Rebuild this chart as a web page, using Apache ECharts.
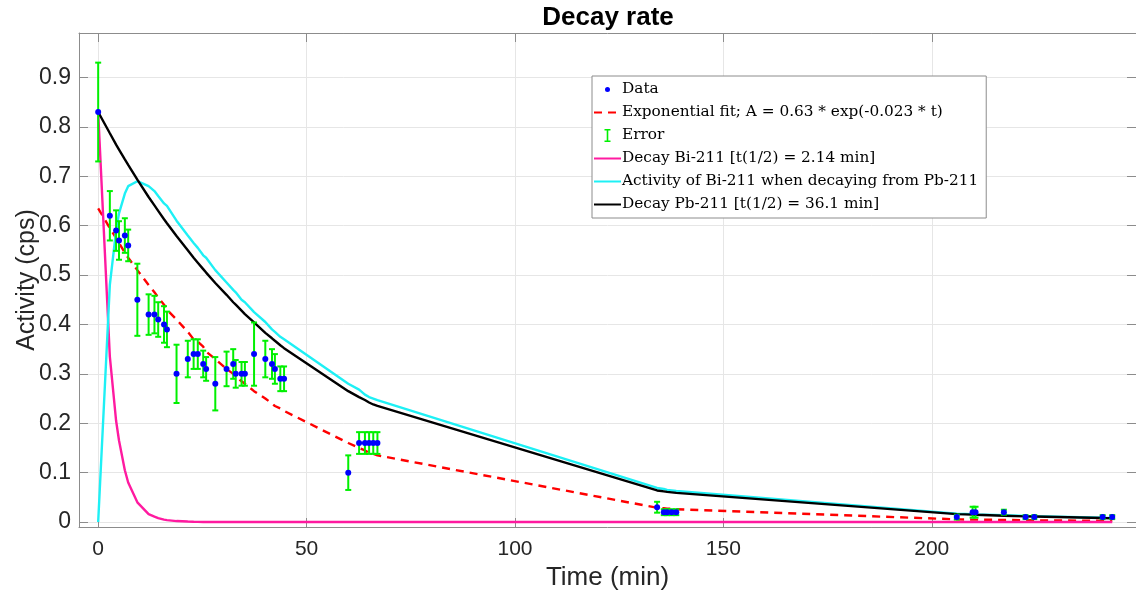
<!DOCTYPE html>
<html>
<head>
<meta charset="utf-8">
<title>Decay rate</title>
<script src="https://cdn.jsdelivr.net/npm/echarts@6/dist/echarts.min.js"></script>
<style>
    html, body { margin: 0; padding: 0; background: #fff; }
    #main { width: 1136px; height: 604px; }
</style>
</head>
<body>
<div id="main"></div>
<script>
var timeMin = [0, 2.8, 4.3, 5.0, 6.4, 7.2, 9.4, 12.1, 13.5, 14.4, 15.8, 16.5, 18.8, 21.5, 22.9, 23.9,
    25.2, 25.9, 28.1, 30.8, 32.4, 33.0, 34.4, 35.2, 37.4, 40.1, 41.7, 42.4, 43.7, 44.6,
    60.0, 62.6, 64.0, 65.0, 66.0, 67.0, 134.1, 135.7, 136.5, 137.6, 138.7,
    206.0, 209.8, 210.5, 217.3, 222.5, 224.6, 241.0, 243.3];

// measured activity (cps)
var activity = [0.83, 0.62, 0.59, 0.57, 0.58, 0.56, 0.45, 0.42, 0.42, 0.41, 0.40, 0.39, 0.30, 0.33, 0.34, 0.34,
    0.32, 0.31, 0.28, 0.31, 0.32, 0.30, 0.30, 0.30, 0.34, 0.33, 0.32, 0.31, 0.29, 0.29,
    0.10, 0.16, 0.16, 0.16, 0.16, 0.16, 0.03, 0.02, 0.02, 0.02, 0.02,
    0.01, 0.02, 0.02, 0.02, 0.01, 0.01, 0.01, 0.01];

// half length of the error bars
var errorHalf = [0.10, 0.05, 0.041, 0.039, 0.035, 0.032, 0.073, 0.041, 0.038, 0.035, 0.037, 0.036, 0.059, 0.037, 0.03, 0.03,
    0.027, 0.024, 0.054, 0.035, 0.03, 0.028, 0.024, 0.024, 0.064, 0.037, 0.03, 0.03, 0.025, 0.025,
    0.035, 0.022, 0.022, 0.022, 0.022, 0.022, 0.011, 0.006, 0.006, 0.006, 0.006,
    0.005, 0.011, 0.011, 0.005, 0.004, 0.004, 0.004, 0.004];

// red dashed fit, read at the same times
var expFit = [0.635, 0.595, 0.575, 0.565, 0.545, 0.535, 0.51, 0.48, 0.465, 0.455, 0.44, 0.43, 0.41, 0.385, 0.37, 0.365,
    0.355, 0.345, 0.33, 0.31, 0.30, 0.295, 0.285, 0.28, 0.265, 0.25, 0.24, 0.235, 0.23, 0.225,
    0.16, 0.15, 0.145, 0.14, 0.138, 0.135, 0.029, 0.028, 0.027, 0.027, 0.026,
    0.0055, 0.005, 0.005, 0.0043, 0.0038, 0.0036, 0.0025, 0.0023];

// pink: Bi-211
var decayBi = [0.83, 0.335, 0.205, 0.165, 0.105, 0.08, 0.04, 0.016, 0.011, 0.008, 0.005, 0.004, 0.002, 0.001, 0.0005, 0.0004,
    0.0002, 0.0002, 0.0001, 0, 0, 0, 0, 0, 0, 0, 0, 0, 0, 0,
    0, 0, 0, 0, 0, 0, 0, 0, 0, 0, 0,
    0, 0, 0, 0, 0, 0, 0, 0];

// cyan: Bi-211 grown from Pb-211
var activityBi = [0, 0.48, 0.59, 0.625, 0.665, 0.68, 0.69, 0.68, 0.67, 0.66, 0.645, 0.64, 0.61, 0.58, 0.565, 0.555,
    0.54, 0.535, 0.51, 0.485, 0.47, 0.465, 0.45, 0.445, 0.425, 0.405, 0.39, 0.385, 0.375, 0.37,
    0.28, 0.268, 0.258, 0.253, 0.25, 0.247, 0.069, 0.067, 0.065, 0.064, 0.063,
    0.017, 0.016, 0.0155, 0.014, 0.0125, 0.012, 0.0088, 0.0084];

// black: Pb-211
var decayPb = [0.83, 0.787, 0.764, 0.754, 0.734, 0.723, 0.693, 0.658, 0.641, 0.63, 0.613, 0.605, 0.579, 0.55, 0.535, 0.525,
    0.512, 0.505, 0.484, 0.46, 0.445, 0.44, 0.428, 0.421, 0.404, 0.383, 0.372, 0.367, 0.358, 0.352,
    0.265, 0.253, 0.247, 0.242, 0.238, 0.235, 0.064, 0.062, 0.061, 0.06, 0.059,
    0.016, 0.015, 0.0147, 0.0129, 0.0116, 0.0112, 0.0081, 0.0078];

var xTicks = [0, 50, 100, 150, 200];
var yTicks = [0, 0.1, 0.2, 0.3, 0.4, 0.5, 0.6, 0.7, 0.8, 0.9];

var names = [
    'Data',
    'Exponential fit; A = 0.63 * exp(-0.023 * t)',
    'Error',
    'Decay Bi-211 [t(1/2) = 2.14 min]',
    'Activity of Bi-211 when decaying from Pb-211',
    'Decay Pb-211 [t(1/2) = 36.1 min]'
];

var errorColor = '#00f000';
var axisGrey = '#8c8c8c';
var textGrey = '#262626';

function pairs(ys) {
    return timeMin.map(function(t, i) { return [t, ys[i]]; });
}

var errorData = timeMin.map(function(t, i) {
    return [t, activity[i] - errorHalf[i], activity[i] + errorHalf[i]];
});

function renderErrorBar(params, api) {
    var t = api.value(0);
    var top = api.coord([t, api.value(2)]);
    var bottom = api.coord([t, api.value(1)]);
    var half = 3;
    var style = { stroke: errorColor, lineWidth: 2 };
    return {
        type: 'group',
        children: [
            { type: 'line', shape: { x1: top[0], y1: top[1], x2: bottom[0], y2: bottom[1] }, style: style },
            { type: 'line', shape: { x1: top[0] - half, y1: top[1], x2: top[0] + half, y2: top[1] }, style: style },
            { type: 'line', shape: { x1: bottom[0] - half, y1: bottom[1], x2: bottom[0] + half, y2: bottom[1] }, style: style }
        ]
    };
}

function lineSeries(name, ys, color, type) {
    return {
        name: name,
        type: 'line',
        data: pairs(ys),
        symbol: 'none',
        z: 2,
        itemStyle: { color: color },
        lineStyle: { color: color, width: 2.4, type: type || 'solid' }
    };
}

// line entries in the legend: only the stroke, no marker
var noMarker = { opacity: 0 };

var mainChart = echarts.init(document.getElementById('main'));

var option = {
    animation: false,
    backgroundColor: '#fff',
    title: {
        text: 'Decay rate',
        left: 603,
        top: 0,
        textAlign: 'center',
        textStyle: { fontFamily: 'Liberation Sans', fontSize: 26, fontWeight: 'bold', color: '#000' }
    },
    grid: { left: 79, top: 33, right: 0, bottom: 77, outerBoundsMode: 'none' },
    legend: {
        orient: 'vertical',
        left: 592,
        top: 76,
        padding: [6, 8, 6, 1],
        itemWidth: 27,
        itemHeight: 14,
        itemGap: 8,
        selectedMode: false,
        backgroundColor: '#fff',
        borderColor: '#8c8c8c',
        borderWidth: 1,
        textStyle: { fontFamily: 'DejaVu Serif', fontSize: 15.3, lineHeight: 14, color: '#000', padding: [0, 0, 0, -4] },
        data: [
            { name: names[0], icon: 'path://M0,0h0.05v0.05h-0.05Z M26.95,13.95h0.05v0.05h-0.05Z M16,7a2.5,2.5 0 1,1 -5,0a2.5,2.5 0 1,1 5,0Z' },
            { name: names[1], itemStyle: noMarker },
            { name: names[2], icon: 'path://M0,0h0.05v0.05h-0.05Z M26.95,13.95h0.05v0.05h-0.05Z M10.5,0.5h6v1.6h-2.2v9.8h2.2v1.6h-6v-1.6h2.2v-9.8h-2.2Z' },
            { name: names[3], itemStyle: noMarker },
            { name: names[4], itemStyle: noMarker },
            { name: names[5], itemStyle: noMarker }
        ]
    },
    xAxis: [{
        type: 'value',
        min: -4.6,
        max: 249,
        name: 'Time (min)',
        nameLocation: 'middle',
        nameGap: 38,
        nameMoveOverlap: false,
        nameTextStyle: { fontFamily: 'Liberation Sans', fontSize: 26, color: textGrey },
        axisLine: { show: true, onZero: false, lineStyle: { color: axisGrey } },
        axisTick: { show: true, inside: true, length: 9, customValues: xTicks, lineStyle: { color: axisGrey } },
        axisLabel: { margin: 12, customValues: xTicks, fontFamily: 'Liberation Sans', fontSize: 21, color: textGrey },
        splitLine: { show: true, lineStyle: { color: '#e6e6e6' } }
    }, {
        type: 'value',
        position: 'top',
        min: -4.6,
        max: 249,
        axisLine: { show: true, onZero: false, lineStyle: { color: axisGrey } },
        axisTick: { show: true, inside: true, length: 9, customValues: xTicks, lineStyle: { color: axisGrey } },
        axisLabel: { show: false },
        splitLine: { show: false }
    }],
    yAxis: [{
        type: 'value',
        min: -0.01,
        max: 0.99,
        name: 'Activity (cps)',
        nameLocation: 'middle',
        nameGap: 39,
        nameMoveOverlap: false,
        nameTextStyle: { fontFamily: 'Liberation Sans', fontSize: 25, color: textGrey },
        axisLine: { show: true, onZero: false, lineStyle: { color: axisGrey } },
        axisTick: { show: true, inside: true, length: 9, customValues: yTicks, lineStyle: { color: axisGrey } },
        axisLabel: { margin: 8, customValues: yTicks, fontFamily: 'Liberation Sans', fontSize: 23, color: textGrey },
        splitLine: { show: true, lineStyle: { color: '#e6e6e6' } }
    }, {
        type: 'value',
        position: 'right',
        min: -0.01,
        max: 0.99,
        axisLine: { show: true, onZero: false, lineStyle: { color: axisGrey } },
        axisTick: { show: true, inside: true, length: 9, customValues: yTicks, lineStyle: { color: axisGrey } },
        axisLabel: { show: false },
        splitLine: { show: false }
    }],
    series: [
        lineSeries(names[1], expFit, '#ff0000', [8, 6]),
        lineSeries(names[3], decayBi, '#ff1aa0'),
        lineSeries(names[4], activityBi, '#1ef0f5'),
        lineSeries(names[5], decayPb, '#000000'),
        {
            name: names[2],
            type: 'custom',
            renderItem: renderErrorBar,
            data: errorData,
            encode: { x: 0, y: [1, 2] },
            itemStyle: { color: errorColor },
            z: 4
        },
        {
            name: names[0],
            type: 'scatter',
            data: pairs(activity),
            symbol: 'circle',
            symbolSize: 6,
            itemStyle: { color: '#0000ff', opacity: 1 },
            z: 5
        }
    ]
};

mainChart.setOption(option);
</script>
</body>
</html>
